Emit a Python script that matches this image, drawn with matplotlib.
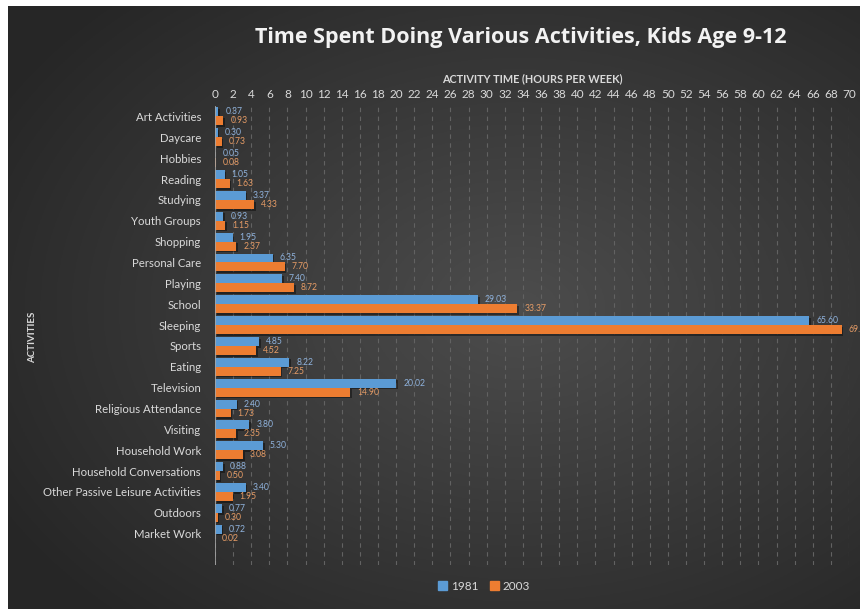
import numpy as np
import matplotlib
matplotlib.use("Agg")
import matplotlib.pyplot as plt
import matplotlib.patheffects as pe
from matplotlib.patches import Patch

# ===== Data =====
activities = ["Art Activities", "Daycare", "Hobbies", "Reading", "Studying",
              "Youth Groups", "Shopping", "Personal Care", "Playing", "School",
              "Sleeping", "Sports", "Eating", "Television", "Religious Attendance",
              "Visiting", "Household Work", "Household Conversations",
              "Other Passive Leisure Activities", "Outdoors", "Market Work"]
hours_1981 = [0.37, 0.30, 0.05, 1.05, 3.37, 0.93, 1.95, 6.35, 7.40, 29.03,
              65.60, 4.85, 8.22, 20.02, 2.40, 3.80, 5.30, 0.88, 3.40, 0.77, 0.72]
hours_2003 = [0.93, 0.73, 0.08, 1.63, 4.33, 1.15, 2.37, 7.70, 8.72, 33.37,
              69.20, 4.52, 7.25, 14.90, 1.73, 2.35, 3.08, 0.50, 1.95, 0.30, 0.02]
series_names = ["1981", "2003"]
x_ticks = list(range(0, 71, 2))
# ================

BLUE = "#5b9bd5"
ORANGE = "#ed7d31"
TXT = "#d9d9d9"

plt.rcParams['font.family'] = ['Lato', 'DejaVu Sans']

fig = plt.figure(figsize=(8.6, 6.09), dpi=100)
fig.patch.set_facecolor("white")

# dark radial background panel
bg = fig.add_axes([8 / 860, 0, 852 / 860, 603 / 609])
gx, gy = np.meshgrid(np.linspace(0, 1, 400), np.linspace(0, 1, 300))
r = np.sqrt(((gx - 0.6) / 0.8) ** 2 + ((gy - 0.5) / 0.8) ** 2)
shade = np.clip(0.30 - 0.17 * r, 0.15, 0.30)
bg.imshow(np.dstack([shade] * 3), aspect="auto", extent=(0, 1, 0, 1))
bg.set_axis_off()

ax = fig.add_axes([215 / 860, 1 - 565 / 609, 634 / 860, 459 / 609])
ax.patch.set_alpha(0)

y = np.arange(len(activities))
h = 0.43
shadow = [pe.SimplePatchShadow(offset=(1.2, -1.2), shadow_rgbFace="black", alpha=0.4), pe.Normal()]
b1 = ax.barh(y - h / 2, hours_1981, height=h, color=BLUE, zorder=3)
b2 = ax.barh(y + h / 2, hours_2003, height=h, color=ORANGE, zorder=3)
for bars, vals, col in [(b1, hours_1981, "#8fb2dc"), (b2, hours_2003, "#e69c66")]:
    for bar, v in zip(bars, vals):
        bar.set_path_effects(shadow)
        ax.annotate(f"{v:.2f}", (v, bar.get_y() + bar.get_height() / 2),
                    xytext=(5, 0), textcoords="offset points", va="center",
                    ha="left", fontsize=6.2, color=col, annotation_clip=False,
                    zorder=4)

ax.set_xlim(0, 70)
ax.set_ylim(len(activities) + 0.5, -0.5)
ax.set_xticks(x_ticks)
ax.set_yticks(y)
ax.set_yticklabels(activities, fontsize=8.2)
ax.xaxis.tick_top()
ax.xaxis.set_label_position("top")
ax.tick_params(axis="both", length=0, colors=TXT)
ax.tick_params(axis="x", pad=4, labelsize=8.5)
ax.tick_params(axis="y", pad=10)
ax.grid(axis="x", color="#626262", linestyle=(0, (4, 4)), linewidth=0.8, zorder=0)
for s in ax.spines.values():
    s.set_visible(False)
ax.axvline(0, color="#a6a6a6", linewidth=1.2, zorder=5)

ax.set_xlabel("ACTIVITY TIME (HOURS PER WEEK)", fontsize=7.8, fontweight="bold",
              color=TXT, labelpad=5)
fig.text(33 / 860, 1 - 337 / 609, "ACTIVITIES", rotation=90, ha="center",
         va="center", fontsize=7, fontweight="bold", color=TXT)
fig.text(521 / 860, 1 - 37 / 609, "Time Spent Doing Various Activities, Kids Age 9-12",
         ha="center", va="center", fontsize=15.5, fontweight="bold", color="#f2f2f2",
         family=["Open Sans", "DejaVu Sans"])

handles = [Patch(color=BLUE, label=series_names[0]), Patch(color=ORANGE, label=series_names[1])]
fig.legend(handles=handles, loc="center", bbox_to_anchor=(484 / 860, 1 - 586 / 609),
           ncol=2, frameon=False, fontsize=8.5, labelcolor=TXT, handlelength=0.8,
           handleheight=0.8, handletextpad=0.3, columnspacing=1.0)

fig.savefig("out.png", dpi=100)
